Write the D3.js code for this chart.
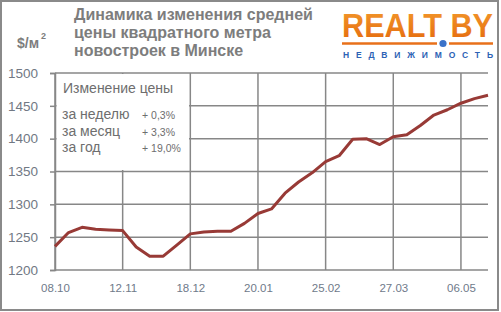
<!DOCTYPE html>
<html>
<head>
<meta charset="utf-8">
<script src="https://cdn.jsdelivr.net/npm/d3@7"></script>
<style>
  body { margin: 0; background: #fff; }
  svg { display: block; font-family: "Liberation Sans", Arial, sans-serif; }
</style>
</head>
<body>
<div id="chart"></div>
<script>
// weekly dates, only every 5th is labelled on the axis
const categories = [
    "08.10", "15.10", "22.10", "29.10", "05.11",
    "12.11", "19.11", "26.11", "03.12", "10.12",
    "18.12", "25.12", "01.01", "08.01", "14.01",
    "20.01", "28.01", "04.02", "11.02", "18.02",
    "25.02", "04.03", "11.03", "17.03", "22.03",
    "27.03", "03.04", "10.04", "17.04", "24.04",
    "06.05", "13.05", "20.05"
];
const values = [
    1236, 1257, 1265, 1262, 1261,
    1260, 1235, 1221, 1221, 1238,
    1255, 1258, 1259, 1259, 1271,
    1286, 1293, 1317, 1334, 1348,
    1365, 1374, 1399, 1400, 1391,
    1403, 1406, 1420, 1436, 1444,
    1454, 1461, 1466
];
const yTicks = [1200, 1250, 1300, 1350, 1400, 1450, 1500];
const xTickLabels = ["08.10", "12.11", "18.12", "20.01", "25.02", "27.03", "06.05"];

const titleLines = ["Динамика изменения средней", "цены квадратного метра", "новостроек в Минске"];
const changeLabels = ["за неделю", "за месяц", "за год"];
const changeValues = ["+ 0,3%", "+ 3,3%", "+ 19,0%"];

const W = 501, H = 312;
const plot = { left: 55, right: 488, top: 73, bottom: 270 };

const x = d3.scalePoint()
    .domain(categories)
    .range([plot.left, plot.right]);

const y = d3.scaleLinear()
    .domain([1200, 1500])
    .range([plot.bottom, plot.top]);

const svg = d3.select("#chart").append("svg")
    .attr("width", W)
    .attr("height", H);

svg.append("rect")
    .attr("x", 1).attr("y", 1)
    .attr("width", 497).attr("height", 309)
    .attr("fill", "#fff")
    .attr("stroke", "#8a8a8a")
    .attr("stroke-width", 2);

const gridColor = "#878787";

// horizontal grid
svg.append("g")
    .selectAll("line")
    .data(yTicks)
    .enter().append("line")
    .attr("x1", plot.left).attr("x2", plot.right)
    .attr("y1", d => y(d)).attr("y2", d => y(d))
    .attr("stroke", gridColor)
    .attr("stroke-width", 1.5);

// vertical grid at labelled dates
svg.append("g")
    .selectAll("line")
    .data(xTickLabels)
    .enter().append("line")
    .attr("x1", d => x(d)).attr("x2", d => x(d))
    .attr("y1", plot.top).attr("y2", plot.bottom)
    .attr("stroke", gridColor)
    .attr("stroke-width", 1.5);

// inset box covers the grid
svg.append("rect")
    .attr("x", 56.5).attr("y", 74)
    .attr("width", 132.5).attr("height", 96)
    .attr("fill", "#fff");

const yAxis = d3.axisLeft(y).tickValues(yTicks).tickSize(5).tickPadding(12).tickFormat(d3.format("d"));
const gy = svg.append("g")
    .attr("transform", "translate(" + plot.left + ",0)")
    .call(yAxis);
gy.select(".domain").attr("stroke", gridColor).attr("stroke-width", 1.5);
gy.selectAll(".tick line").attr("stroke", gridColor).attr("stroke-width", 1.5);
gy.selectAll(".tick text")
    .attr("fill", "#717884")
    .attr("font-size", 13.5)
    .attr("font-family", "Liberation Sans, Arial, sans-serif");

const xAxis = d3.axisBottom(x).tickValues(xTickLabels).tickSize(0).tickPadding(14);
const gx = svg.append("g")
    .attr("transform", "translate(0," + plot.bottom + ")")
    .call(xAxis);
gx.select(".domain").remove();
gx.selectAll(".tick text")
    .attr("fill", "#6f7a8a")
    .attr("font-size", 11.5)
    .attr("font-family", "Liberation Sans, Arial, sans-serif");

// price line
const line = d3.line()
    .x((d, i) => x(categories[i]))
    .y(d => y(d));

svg.append("path")
    .datum(values)
    .attr("d", line)
    .attr("fill", "none")
    .attr("stroke", "#983a36")
    .attr("stroke-width", 3)
    .attr("stroke-linejoin", "round");

// title
svg.append("g")
    .selectAll("text")
    .data(titleLines)
    .enter().append("text")
    .attr("x", 74)
    .attr("y", (d, i) => 20 + i * 18)
    .attr("font-size", 16)
    .attr("font-weight", "bold")
    .attr("fill", "#7d7d7d")
    .text(d => d);

// unit
const unit = svg.append("text")
    .attr("x", 17).attr("y", 48)
    .attr("font-size", 14)
    .attr("font-weight", "bold")
    .attr("fill", "#7d7d7d");
unit.append("tspan").text("$/м");
unit.append("tspan").attr("dy", -9).attr("font-size", 9).attr("dx", 2).text("2");

// inset text
svg.append("text")
    .attr("x", 63).attr("y", 93)
    .attr("font-size", 14)
    .attr("fill", "#6e6e6e")
    .text("Изменение цены");

svg.append("g")
    .selectAll("text")
    .data(changeLabels)
    .enter().append("text")
    .attr("x", 62)
    .attr("y", (d, i) => 119 + i * 16.5)
    .attr("font-size", 14)
    .attr("fill", "#6e6e6e")
    .text(d => d);

svg.append("g")
    .selectAll("text")
    .data(changeValues)
    .enter().append("text")
    .attr("x", 142)
    .attr("y", (d, i) => 119 + i * 16.5)
    .attr("font-size", 10.5)
    .attr("fill", "#6e6e6e")
    .text(d => d);

// logo
const defs = svg.append("defs");
const grad = defs.append("linearGradient")
    .attr("id", "logoGrad")
    .attr("x1", 0).attr("y1", 0).attr("x2", 0).attr("y2", 1);
grad.append("stop").attr("offset", "0%").attr("stop-color", "#f39a2c");
grad.append("stop").attr("offset", "100%").attr("stop-color", "#e4680c");

const logo = svg.append("text")
    .attr("transform", "translate(342,37) scale(0.93,1)")
    .attr("font-size", 34)
    .attr("font-weight", "bold")
    .attr("fill", "url(#logoGrad)")
    .text("REALT BY");
// squeeze the word to the logo width
const lw = logo.node().getComputedTextLength();
logo.attr("transform", "translate(342,37) scale(" + (151 / lw) + ",1)");

svg.append("line")
    .attr("x1", 342).attr("x2", 437)
    .attr("y1", 43.5).attr("y2", 43.5)
    .attr("stroke", "#e8701a").attr("stroke-width", 2.5);
svg.append("line")
    .attr("x1", 449).attr("x2", 493)
    .attr("y1", 43.5).attr("y2", 43.5)
    .attr("stroke", "#e8701a").attr("stroke-width", 2.5);
svg.append("circle")
    .attr("cx", 443).attr("cy", 43.5).attr("r", 3.6)
    .attr("fill", "#3a72c9");

svg.append("text")
    .attr("x", 343).attr("y", 58)
    .attr("font-size", 8.5)
    .attr("font-weight", "bold")
    .attr("fill", "#2d62b5")
    .attr("textLength", 150)
    .attr("lengthAdjust", "spacing")
    .text("НЕДВИЖИМОСТЬ");
</script>
</body>
</html>
